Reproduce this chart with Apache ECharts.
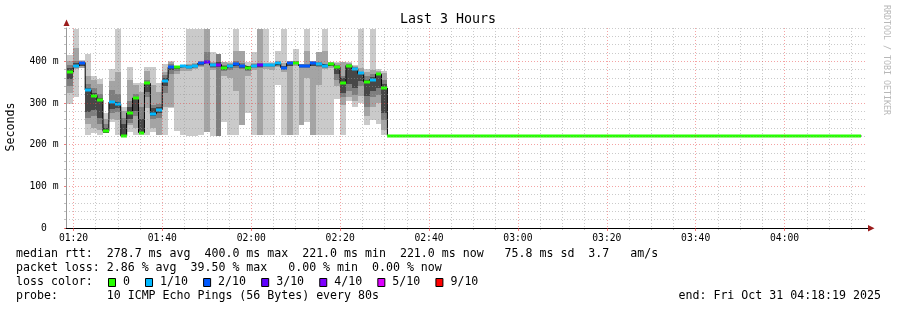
<!DOCTYPE html>
<html><head><meta charset="utf-8">
<script src="https://cdn.jsdelivr.net/npm/echarts@6/dist/echarts.min.js"></script>
<style>html,body{margin:0;padding:0;background:#fff}#c{width:897px;height:310px}</style>
</head><body><div id="c"></div>
<script>
// ---------------- data ----------------
const title = 'Last 3 Hours';
const yAxisName = 'Seconds';
const windowStart = '01:18:19';
const windowEnd = '04:18:19';
const firstColumnStart = '01:18:38';
const stepSeconds = 80;
const idleEnd = '04:17:18';
const idleMedianMs = 221;
const idleLoss = 0;

const xTickLabels = ['01:20','01:40','02:00','02:20','02:40','03:00','03:20','03:40','04:00'];
const yTickValues = [0,100,200,300,400];
const yMaxMs = 480;

const medianMs = [374,389,397,331,318,307,232,302,298,221, 276,312,229,347,274,284,354,386,386,389,
  386,390,395,399,391,392,384,390,394,389, 385,390,391,391,391,395,385,395,397,390,
  390,395,393,390,394,387,347,390,382,371, 351,356,369,336];
const lossTenths = [0,1,2,1,0,0,0,1,1,0, 0,0,0,0,1,1,1,2,0,1, 1,1,2,3,1,4,0,1,2,2,
  0,1,3,1,1,1,2,2,0,2, 2,2,1,1,0,0,0,0,1,1, 0,1,0,0];

const lightLo = [298,315,383,223,227,223,227,255,223,222, 231,223,223,223,231,223,223,287,232,223,
  221,221,223,null,221,null,255,223,223,null, 275,223,null,223,223,343,223,null,223,null,
  255,null,223,223,223,310,223,306,290,300, 247,260,250,223];
const lightHi = [416,478,403,418,366,358,275,382,478,290, 386,347,347,386,386,347,394,400,390,392,
  478,478,478,null,422,null,398,398,478,null, 398,422,null,478,398,426,478,null,430,null,
  478,null,422,478,398,398,398,398,392,478, 382,478,382,378];
const midLo = [325,382,385,250,240,235,228,262,260,222, 247,240,228,287,240,223,290,290,370,376,
  378,381,386,231,380,null,366,360,330,247, 366,380,223,382,380,386,375,223,390,247,
  360,223,343,382,385,340,295,315,305,318, 270,290,300,235];
const midHi = [402,432,401,366,355,345,262,354,374,280, 355,343,327,378,343,327,374,398,390,392,
  394,396,400,478,398,null,398,396,426,426, 390,396,478,396,396,400,395,400,402,393,
  426,400,422,426,398,395,398,395,390,385, 375,380,378,372];
const darkLo = [340,385,388,265,268,250,228,275,278,222, 252,268,228,315,262,265,325,370,378,383,
  382,385,390,398,385,221,376,380,385,382, 376,385,385,386,386,389,380,388,393,384,
  384,388,386,385,388,355,315,330,320,340, 290,315,320,260];
const darkHi = [392,400,399,345,335,322,250,332,322,265, 305,322,290,356,295,298,368,393,390,392,
  391,394,398,422,395,418,392,394,400,395, 388,394,396,394,394,398,390,399,400,393,
  394,399,398,394,397,392,365,393,386,375, 365,370,373,355];
const coreLo = [358,387,390,279,283,265,229,286,288,222, 262,280,228,326,268,275,340,380,382,386,
  384,387,392,397,387,386,380,385,388,385, 380,387,387,388,388,391,382,390,394,386,
  386,390,388,387,390,370,325,345,335,352, 318,330,335,275];
const coreHi = [384,395,398,335,325,312,240,306,302,250, 290,315,262,350,287,290,360,390,389,391,
  389,392,397,402,393,398,388,392,397,392, 387,392,393,393,393,397,388,398,399,392,
  392,398,396,392,396,390,360,391,384,373, 356,362,371,345];

const lossLegend = ['0','1/10','2/10','3/10','4/10','5/10','9/10'];
const lossLegendTenths = [0,1,2,3,4,5,9];
const statsRtt = 'median rtt:  278.7 ms avg  400.0 ms max  221.0 ms min  221.0 ms now   75.8 ms sd  3.7   am/s';
const statsLoss = 'packet loss: 2.86 % avg  39.50 % max   0.00 % min  0.00 % now';
const probeText = 'probe:       10 ICMP Echo Pings (56 Bytes) every 80s';
const endText = 'end: Fri Oct 31 04:18:19 2025';
const watermark = 'RRDTOOL / TOBI OETIKER';

// ---------------- styles ----------------
const lossColors = {0:'#26ff00',1:'#00b8ff',2:'#0059ff',3:'#5e00ff',4:'#7e00ff',5:'#dd00ff',9:'#ff0000'};
const smokeColors = ['#cacaca','#a4a4a4','#7e7e7e','#474747'];
const MONO = 'DejaVu Sans Mono';

// ---------------- build ----------------
const toSec = s => { const p = s.split(':').map(Number); return p[0]*3600 + p[1]*60 + (p[2]||0); };
const xMin = toSec(windowStart), xMax = toSec(windowEnd);
const col0 = toSec(firstColumnStart);
const nCols = medianMs.length;
const colStart = i => col0 + i*stepSeconds;
const idleStart = colStart(nCols);
const idleStop = toSec(idleEnd);
const nz = v => (v === null || v === undefined) ? NaN : v;

const smokeData = medianMs.map((_, i) => [colStart(i), colStart(i+1),
  nz(lightLo[i]), nz(lightHi[i]), nz(midLo[i]), nz(midHi[i]),
  nz(darkLo[i]), nz(darkHi[i]), nz(coreLo[i]), nz(coreHi[i])]);
const medianData = medianMs.map((m, i) => [colStart(i), colStart(i+1), m, lossTenths[i]]);
medianData.push([idleStart, idleStop, idleMedianMs, idleLoss]);
const stepLine = medianMs.map((m, i) => [colStart(i), m]);
stepLine.push([idleStart, idleMedianMs]);
stepLine.push([idleStop, idleMedianMs]);

const majorX = xTickLabels.map(toSec);
const minorX = [];
for (let t = Math.ceil(xMin/300)*300; t <= xMax; t += 300) if (t % 1200 !== 0) minorX.push(t);
const minorY = [];
for (let v = 20; v <= yMaxMs; v += 20) if (v % 100 !== 0) minorY.push(v);
const pad = n => String(n).padStart(2,'0');
const fmtHM = v => pad(Math.floor(v/3600)) + ':' + pad(Math.floor((v%3600)/60));

function clipRect(x0, y0, x1, y1, cs) {
  return echarts.graphic.clipRectByRect(
    {x: x0, y: y0, width: x1 - x0, height: y1 - y0},
    {x: cs.x, y: cs.y, width: cs.width, height: cs.height});
}
function renderSmoke(params, api) {
  const cs = params.coordSys;
  const t0 = api.value(0), t1 = api.value(1);
  const children = [];
  for (let b = 0; b < 4; b++) {
    const lo = api.value(2 + b*2), hi = api.value(3 + b*2);
    if (isNaN(lo) || isNaN(hi)) continue;
    const a = api.coord([t0, hi]), c = api.coord([t1, lo]);
    const r = clipRect(Math.round(a[0]), Math.round(a[1]), Math.round(c[0]), Math.round(c[1]), cs);
    if (r) children.push({type: 'rect', shape: r, style: {fill: smokeColors[b]}});
  }
  return {type: 'group', children};
}
function renderMedian(params, api) {
  const cs = params.coordSys;
  const t0 = api.value(0), t1 = api.value(1), v = api.value(2), loss = api.value(3);
  const a = api.coord([t0, v]), c = api.coord([t1, v]);
  const y = Math.round(a[1]);
  const r = clipRect(Math.round(a[0]), y - 1.5, Math.round(c[0]), y + 1.5, cs);
  return r ? {type: 'rect', shape: r, style: {fill: lossColors[loss]}} : null;
}

// legend / text graphics
const baselines = [254, 267.9, 281.8, 295.7];
const txt = (x, y, s, extra) => Object.assign({type: 'text', x, y, z: 20,
  style: {text: s, font: '11.6px "' + MONO + '"', fill: '#000', align: 'left', verticalAlign: 'middle'}}, extra || {});
const graphics = [
  {type: 'text', x: 448, y: 19.5, z: 20, style: {text: title, font: '13.3px "' + MONO + '"', fill: '#000', align: 'center', verticalAlign: 'middle'}},
  {type: 'text', x: 11, y: 127, rotation: Math.PI/2, z: 20, style: {text: yAxisName, font: '11.6px "' + MONO + '"', fill: '#000', align: 'center', verticalAlign: 'middle'}},
  {type: 'text', x: 886, y: 60, rotation: -Math.PI/2, z: 20, style: {text: watermark, font: '8.3px "' + MONO + '"', fill: '#b8b8b8', align: 'center', verticalAlign: 'middle'}},
  txt(16, baselines[0], statsRtt),
  txt(16, baselines[1], statsLoss),
  txt(16, baselines[2], 'loss color:'),
  txt(16, baselines[3], probeText),
  txt(678.5, baselines[3], endText),
  {type: 'line', z: 20, shape: {x1: 865, y1: 228.5, x2: 869, y2: 228.5}, style: {stroke: '#000', lineWidth: 1}},
  {type: 'polygon', z: 20, shape: {points: [[63.5, 26], [69.5, 26], [66.5, 19.5]]}, style: {fill: '#9b1c1c'}},
  {type: 'polygon', z: 20, shape: {points: [[868, 225], [868, 231.5], [874.5, 228.2]]}, style: {fill: '#9b1c1c'}}
];
let bx = 108;
lossLegend.forEach((lab, i) => {
  graphics.push({type: 'rect', z: 20, shape: {x: bx + 0.5, y: 278.5, width: 7, height: 8},
    style: {fill: lossColors[lossLegendTenths[i]], stroke: '#000', lineWidth: 1}});
  graphics.push(txt(bx + 15, baselines[2], lab));
  bx = bx + 15 + lab.length * 7.02 + 15;
});

const chart = echarts.init(document.getElementById('c'), null, {renderer: 'canvas'});
chart.setOption({
  animation: false,
  backgroundColor: '#fff',
  grid: {left: 66, top: 28, width: 800, height: 200, containLabel: false},
  xAxis: [
    {type: 'value', min: xMin, max: xMax, position: 'bottom', z: 6,
      axisLine: {show: true, lineStyle: {color: '#000', width: 1}},
      axisTick: {show: true, customValues: majorX, length: 3, lineStyle: {color: 'rgba(230,40,40,0.6)'}},
      axisLabel: {show: true, customValues: majorX, formatter: fmtHM, fontFamily: MONO, fontSize: 9.7, color: '#000', margin: 5},
      splitLine: {show: true, lineStyle: {color: 'rgba(230,50,50,0.45)', width: 1, type: [1, 2]}}},
    {type: 'value', min: xMin, max: xMax, position: 'bottom', z: 5,
      axisLine: {show: false}, axisLabel: {show: false},
      axisTick: {show: true, customValues: minorX, length: 2, lineStyle: {color: 'rgba(150,150,150,0.6)'}},
      splitLine: {show: true, lineStyle: {color: 'rgba(150,150,150,0.5)', width: 1, type: [1, 2]}}}
  ],
  yAxis: [
    {type: 'value', min: 0, max: yMaxMs, position: 'left', z: 6,
      axisLine: {show: true, lineStyle: {color: '#999', width: 1}},
      axisTick: {show: true, customValues: yTickValues, length: 2, lineStyle: {color: 'rgba(230,40,40,0.6)'}},
      axisLabel: {show: true, customValues: yTickValues, formatter: v => v === 0 ? '0' : v + ' m',
        fontFamily: MONO, fontSize: 9.7, color: '#000', align: 'center', margin: 22},
      splitLine: {show: true, lineStyle: {color: 'rgba(230,50,50,0.45)', width: 1, type: [1, 2]}}},
    {type: 'value', min: 0, max: yMaxMs, position: 'left', z: 5,
      axisLine: {show: false}, axisLabel: {show: false},
      axisTick: {show: true, customValues: minorY, length: 2, lineStyle: {color: 'rgba(150,150,150,0.6)'}},
      splitLine: {show: true, lineStyle: {color: 'rgba(150,150,150,0.5)', width: 1, type: [1, 2]}}}
  ],
  series: [
    {type: 'custom', name: 'smoke', xAxisIndex: 0, yAxisIndex: 0, z: 1, silent: true,
      renderItem: renderSmoke, encode: {x: [0, 1], y: [2, 3, 4, 5, 6, 7, 8, 9]}, data: smokeData},
    {type: 'line', name: 'median', xAxisIndex: 0, yAxisIndex: 0, z: 2, step: 'end', showSymbol: false,
      symbol: 'none', lineStyle: {color: '#000', width: 1}, data: stepLine, silent: true},
    {type: 'custom', name: 'loss', xAxisIndex: 0, yAxisIndex: 0, z: 3, silent: true,
      renderItem: renderMedian, encode: {x: [0, 1], y: 2}, data: medianData}
  ],
  graphic: graphics
});
</script>
</body></html>
